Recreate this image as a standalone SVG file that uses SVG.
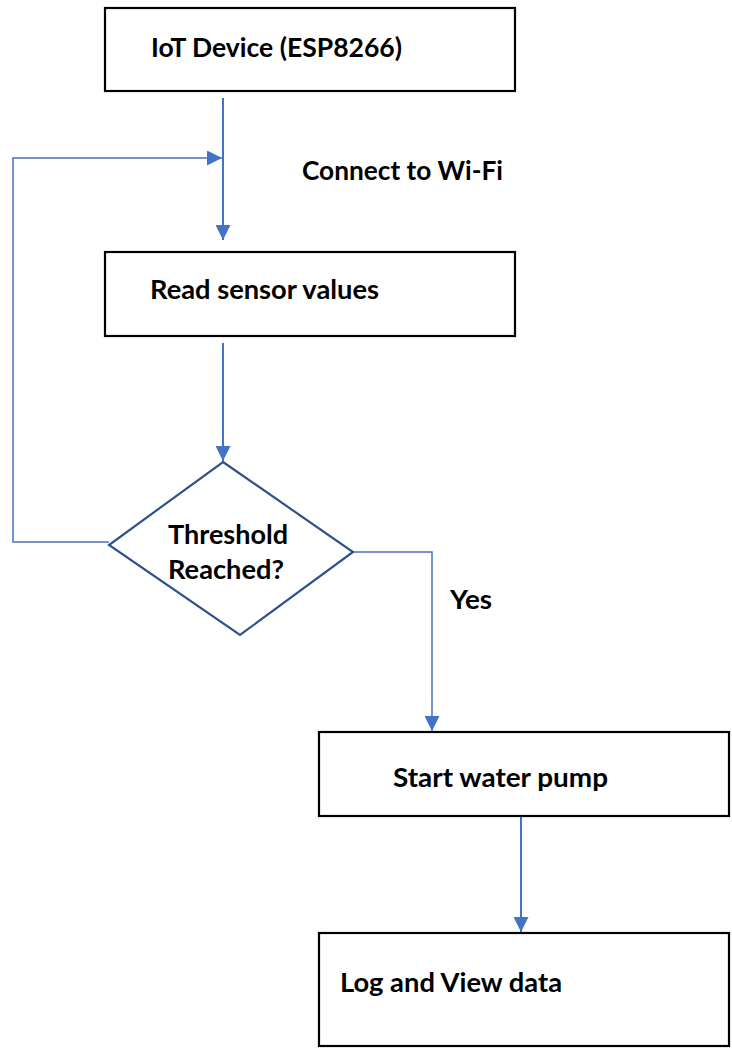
<svg xmlns="http://www.w3.org/2000/svg" width="732" height="1050" viewBox="0 0 732 1050">
<style>
.box{fill:#fff;stroke:#000;stroke-width:2.2}
.dia{fill:#fff;stroke:#2F528F;stroke-width:2.2}
.lbl{font-family:Lato,"Open Sans","Liberation Sans",sans-serif;font-weight:700;font-size:27px;fill:#000}
.con{fill:none;stroke:#4472C4;stroke-width:2}
.thin{fill:none;stroke:#4472C4;stroke-width:1.5}
</style>
<defs>
<marker id="arr" viewBox="0 0 10 10" refX="10" refY="5" markerWidth="15" markerHeight="15" markerUnits="userSpaceOnUse" orient="auto">
<path d="M0,0 L10,5 L0,10 Z" fill="#4472C4"/>
</marker>
</defs>
<rect width="732" height="1050" fill="#fff"/>
<g id="connectors">
<line class="con" x1="223" y1="98" x2="223" y2="240" marker-end="url(#arr)"/>
<polyline class="thin" points="109,542 13,542 13,158 222,158" marker-end="url(#arr)"/>
<line class="con" x1="223" y1="343" x2="223" y2="461" marker-end="url(#arr)"/>
<polyline class="thin" points="353,552 432,552 432,731" marker-end="url(#arr)"/>
<line class="con" x1="521" y1="816" x2="521" y2="932" marker-end="url(#arr)"/>
<text class="lbl" x="302" y="180" textLength="201" lengthAdjust="spacingAndGlyphs">Connect to Wi-Fi</text>
<text class="lbl" x="450" y="609" textLength="42" lengthAdjust="spacingAndGlyphs">Yes</text>
</g>
<g id="node-iot">
<rect class="box" x="105" y="8" width="410" height="83"/>
<text class="lbl" x="151" y="57" textLength="251" lengthAdjust="spacingAndGlyphs">IoT Device (ESP8266)</text>
</g>
<g id="node-read">
<rect class="box" x="105" y="252" width="410" height="84"/>
<text class="lbl" x="150" y="299" textLength="229" lengthAdjust="spacingAndGlyphs">Read sensor values</text>
</g>
<g id="node-threshold">
<polygon class="dia" points="223,462 353,552 240,635 109,545"/>
<text class="lbl" x="168" y="544" textLength="120" lengthAdjust="spacingAndGlyphs">Threshold</text>
<text class="lbl" x="168" y="579" textLength="116" lengthAdjust="spacingAndGlyphs">Reached?</text>
</g>
<g id="node-pump">
<rect class="box" x="319" y="732" width="410" height="84"/>
<text class="lbl" x="393" y="787" textLength="215" lengthAdjust="spacingAndGlyphs">Start water pump</text>
</g>
<g id="node-log">
<rect class="box" x="319" y="933" width="410" height="113"/>
<text class="lbl" x="340" y="992" textLength="222" lengthAdjust="spacingAndGlyphs">Log and View data</text>
</g>
</svg>
